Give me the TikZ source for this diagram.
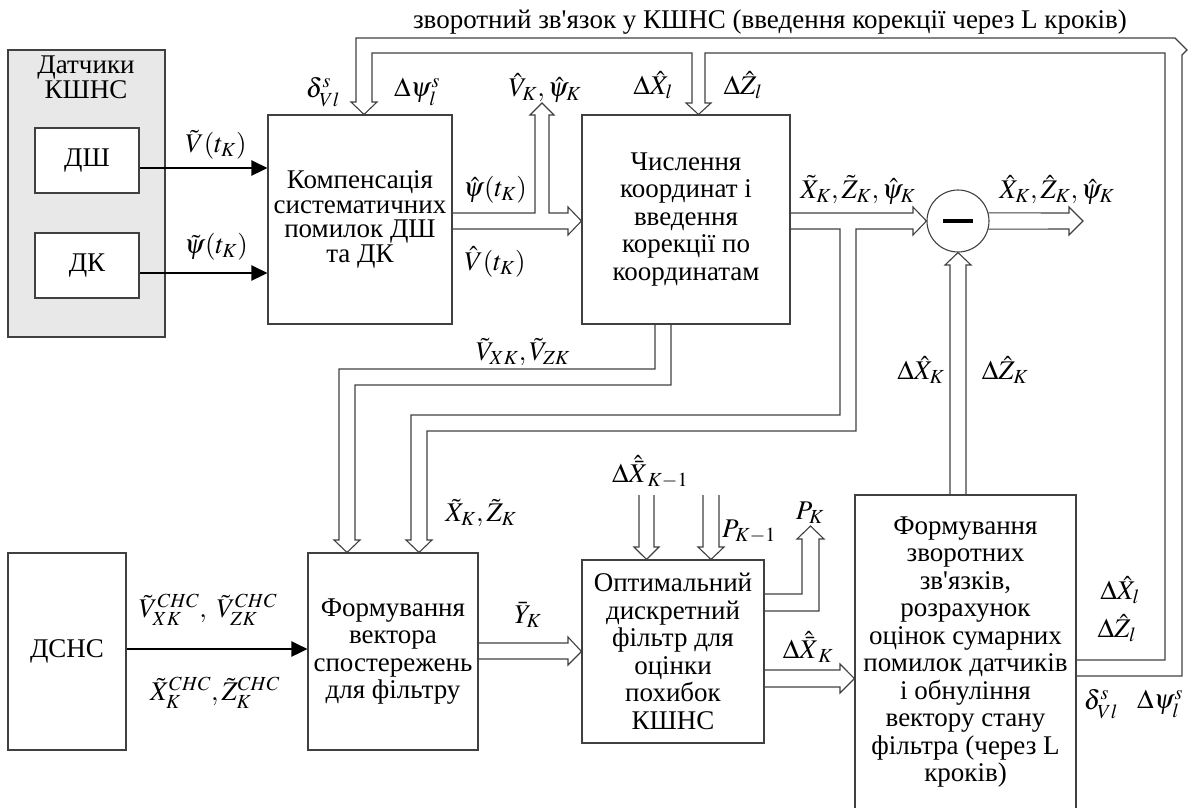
\documentclass[tikz,border=0pt]{standalone}
\usepackage{mathptmx}
\usepackage[no-math]{fontspec}
\setmainfont{Liberation Serif}
\usetikzlibrary{positioning,calc,arrows.meta}
\newcommand{\bigtxt}{\fontsize{27}{27.5}\selectfont}
\tikzset{
  blok/.style={draw=black!75, line width=1.1pt, align=center, inner sep=0pt, font=\bigtxt},
  sensbox/.style={blok, fill=black!9},
  signal/.style={line width=2.6pt, -{Triangle[length=16pt,width=15pt]}},
  bus/.style={draw=black!75, line width=1.1pt},
  lbl/.style={inner sep=0pt, font=\bigtxt},
}
\begin{document}
\begin{tikzpicture}[x=1pt,y=-1pt]
  \useasboundingbox (0,0) rectangle (1192,807);
  \node[sensbox, minimum width=157pt, minimum height=287pt] (sens) at (86.5,193.5) {};
  \node[lbl, align=center, font=\fontsize{27}{25}\selectfont] (senstitle) at (86,77) {Датчики\\КШНС};
  \node[blok, fill=white, minimum width=104pt, minimum height=65pt] (dsh) at (87,160.5) {ДШ};
  \node[blok, fill=white, minimum width=104pt, minimum height=65pt] (dk) at (87,265.5) {ДК};
  \node[blok, minimum width=184pt, minimum height=209pt, font=\fontsize{27}{24.5}\selectfont] (komp) at (360,219.5) {Компенсація\\систематичних\\помилок ДШ\\та ДК};
  \node[blok, minimum width=208pt, minimum height=209pt] (chysl) at (686,219.5) {Числення\\координат і\\введення\\корекції по\\координатам};
  \node[blok, circle, minimum size=62pt] (minus) at (958,221) {\rule[-2pt]{30pt}{4pt}};
  \node[blok, minimum width=118pt, minimum height=197pt] (dsns) at (67,651.5) {ДСНС};
  \node[blok, minimum width=170pt, minimum height=197pt] (vect) at (393,651.5) {Формування\\вектора\\спостережень\\для фільтру};
  \node[blok, minimum width=182pt, minimum height=183pt] (filt) at (673,651.5) {Оптимальний\\дискретний\\фільтр для\\оцінки\\похибок\\КШНС};
  \node[blok, minimum width=221pt, minimum height=314pt] (fb) at (965.5,652) {Формування\\зворотних\\зв\textquotesingle язків,\\розрахунок\\оцінок сумарних\\помилок датчиків\\і обнуління\\вектору стану\\фільтра (через L\\кроків)};

  \draw[signal] (dsh.east |- 0,168) -- (komp.west |- 0,168);
  \draw[signal] (dk.east |- 0,273) -- (komp.west |- 0,273);
  \draw[signal] (dsns.east |- 0,649) -- (vect.west |- 0,649);

  \draw[bus] (komp.east |- 0,213) -- (535,213) -- (535,115) -- (530,115) -- (542,103) -- (554,115) -- (549,115) -- (549,213) -- (568,213) -- (568,207) -- (chysl.west |- 0,221) -- (568,235) -- (568,229) -- (komp.east |- 0,229);
  \draw[bus] (chysl.east |- 0,213) -- (913,213) -- (913,207) -- (minus.west) -- (913,235) -- (913,229) -- (856,229) -- (856,431) -- (427,431) -- (427,540) -- (432,540) -- (vect.north -| 419,0) -- (406,540) -- (411,540) -- (411,415) -- (840,415) -- (840,229) -- (chysl.east |- 0,229);
  \draw[bus] (chysl.south -| 655,0) -- (655,369) -- (339,369) -- (339,540) -- (334,540) -- (vect.north -| 347,0) -- (360,540) -- (355,540) -- (355,385) -- (671,385) -- (chysl.south -| 671,0);
  \coordinate (out) at (1083,221);
  \draw[bus] (minus.15) -- (1069,213) -- (1069,207) -- (out) -- (1069,235) -- (1069,229) -- (minus.-15);
  \draw[bus] (fb.north -| 950,0) -- (950,265) -- (945,265) -- (minus.south) -- (971,265) -- (966,265) -- (fb.north -| 966,0);
  \draw[bus] (vect.east |- 0,643) -- (568,643) -- (568,637) -- (filt.west) -- (568,665) -- (568,659) -- (vect.east |- 0,659);
  \draw[bus] (639,495) -- (639,547) -- (634,547) -- (filt.north -| 646.5,0) -- (659,547) -- (654,547) -- (654,495);
  \draw[bus] (703,495) -- (703,547) -- (698,547) -- (filt.north -| 711,0) -- (724,547) -- (719,547) -- (719,495);
  \coordinate (pout) at (810.5,526);
  \draw[bus] (filt.east |- 0,594) -- (802,594) -- (802,539) -- (797,539) -- (pout) -- (824,539) -- (819,539) -- (819,611) -- (filt.east |- 0,611);
  \draw[bus] (filt.east |- 0,670) -- (840,670) -- (840,664) -- (fb.west |- 0,678.5) -- (840,693) -- (840,687) -- (filt.east |- 0,687);
  \draw[bus] (fb.east |- 0,676) -- (1182,676) -- (1182,55) -- (1187,50) -- (1175,38) -- (356,38) -- (356,102) -- (351,102) -- (komp.north -| 364,0) -- (377,102) -- (372,102) -- (372,53) -- (692,53) -- (692,103) -- (686,103) -- (chysl.north -| 698.5,0) -- (711,103) -- (705,103) -- (705,53) -- (1165,53) -- (1165,660) -- (fb.east |- 0,660);

  \node[lbl] (ltop) at (770,22) {зворотний зв\textquotesingle язок у КШНС (введення корекції через L кроків)};
  \node[lbl] (lvt) at (216,145) {$\tilde V(t_K)$};
  \node[lbl] (lpsit) at (216,247) {$\tilde\psi(t_K)$};
  \node[lbl] (lpsihat) at (495,190) {$\hat\psi(t_K)$};
  \node[lbl] (lvhat) at (495,262) {$\hat V(t_K)$};
  \node[lbl] (ldv1) at (323,92) {$\delta^s_{Vl}$};
  \node[lbl] (ldpsi1) at (417,92) {$\Delta\psi^s_l$};
  \node[lbl] (lvpsik) at (545,88) {$\hat V_K,\hat\psi_K$};
  \node[lbl] (ldx1) at (653,85) {$\Delta\hat X_l$};
  \node[lbl] (ldz1) at (743,85) {$\Delta\hat Z_l$};
  \node[lbl] (lxzpsi) at (858,190) {$\tilde X_K,\tilde Z_K,\hat\psi_K$};
  \node[lbl] (lxzpsiout) at (1057,190) {$\hat X_K,\hat Z_K,\hat\psi_K$};
  \node[lbl] (lvxz) at (523,352) {$\tilde V_{XK},\tilde V_{ZK}$};
  \node[lbl] (ldxk) at (921,370) {$\Delta\hat X_K$};
  \node[lbl] (ldzk) at (1005,370) {$\Delta\hat Z_K$};
  \node[lbl] (lxz) at (481,513) {$\tilde X_K,\tilde Z_K$};
  \node[lbl] (ldxprev) at (650,472) {$\Delta\hat{\bar X}_{K-1}$};
  \node[lbl] (lpprev) at (749,532) {$P_{K-1}$};
  \node[lbl] (lpk) at (810,513) {$P_K$};
  \node[lbl] (ldxbark) at (808,647) {$\Delta\hat{\bar X}_K$};
  \node[lbl] (ldx2) at (1120,590) {$\Delta\hat X_l$};
  \node[lbl] (ldz2) at (1117,628) {$\Delta\hat Z_l$};
  \node[lbl] (ldv2) at (1101,704) {$\delta^s_{Vl}$};
  \node[lbl] (ldpsi2) at (1160,704) {$\Delta\psi^s_l$};
  \node[lbl] (lvchc) at (208,610) {$\tilde V^{CHC}_{XK},\ \tilde V^{CHC}_{ZK}$};
  \node[lbl] (lxchc) at (215,693) {$\tilde X^{CHC}_K,\tilde Z^{CHC}_K$};
  \node[lbl] (ly) at (528,615) {$\bar Y_K$};
\end{tikzpicture}
\end{document}
